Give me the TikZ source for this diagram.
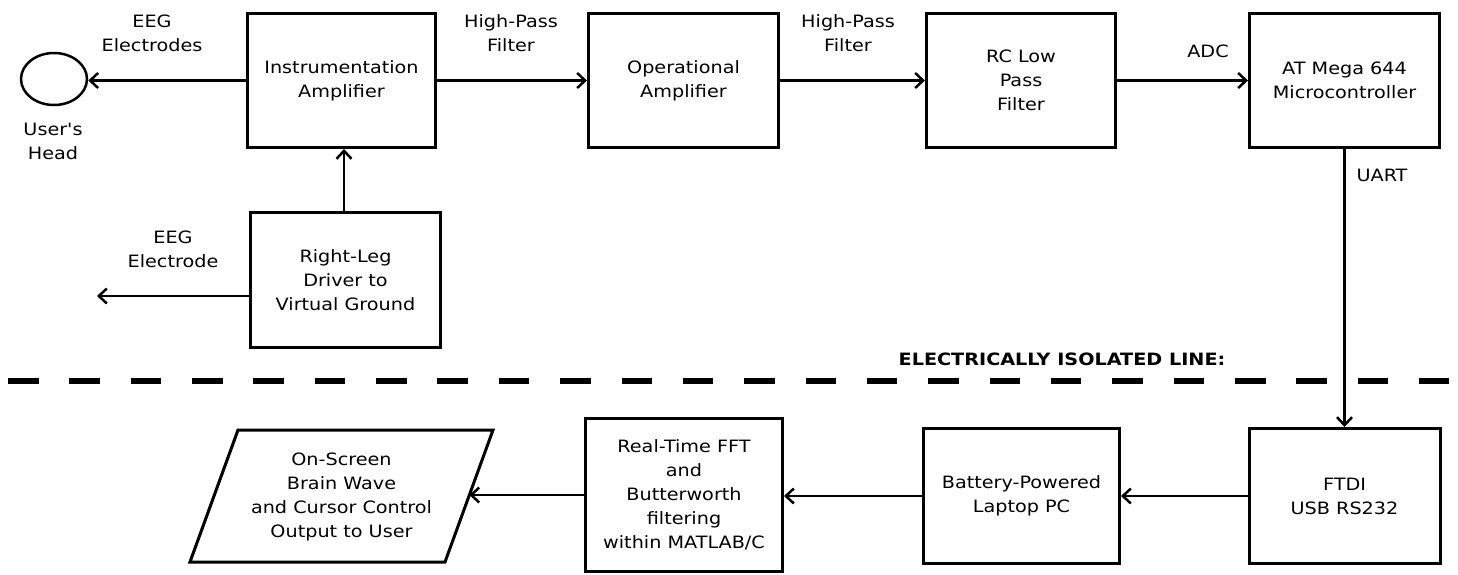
\documentclass[tikz,border=0pt]{standalone}
\usepackage{fontspec}
\setmainfont{DejaVu Sans}[FakeStretch=1.13, Ligatures=TeXOff]
\usetikzlibrary{arrows.meta,shapes.geometric,calc}
\begin{document}
\begin{tikzpicture}[x=1pt,y=-1pt,
  txt/.style={font=\fontsize{17}{24}\selectfont, align=center},
  blk/.style={txt, draw, line width=3pt, inner sep=0pt},
  lbl/.style={txt, inner sep=0pt},
  arr/.style={line width=2.5pt, -{Straight Barb[length=8pt,width=15pt]}}
]
\useasboundingbox (0,0) rectangle (1458,575);

% top row
\node[blk, minimum width=188pt, minimum height=134pt] (ia) at (341.5,80.5) {Instrumentation\\Amplifier};
\node[blk, minimum width=190pt, minimum height=134pt] (oa) at (683.5,80.5) {Operational\\Amplifier};
\node[blk, minimum width=189pt, minimum height=134pt] (rc) at (1021,80.5) {RC Low\\Pass\\Filter};
\node[blk, minimum width=190pt, minimum height=134pt] (at) at (1344.5,80.5) {AT Mega 644\\Microcontroller};
\node[blk, minimum width=190pt, minimum height=135pt] (rl) at (345.5,280) {Right-Leg\\Driver to\\Virtual Ground};

% head
\node[draw, ellipse, line width=2.5pt, minimum width=66pt, minimum height=52pt, inner sep=0pt] (head) at (54,79) {};
\node[lbl] (headlbl) at (53,141) {User's\\Head};

% bottom row
\node[blk, minimum width=191pt, minimum height=135pt] (ftdi) at (1344.5,496) {FTDI\\USB RS232};
\node[blk, minimum width=196pt, minimum height=135pt] (bat) at (1021.5,496) {Battery-Powered\\Laptop PC};
\node[blk, minimum width=197pt, minimum height=153pt] (fft) at (684,495) {Real-Time FFT\\and\\Butterworth\\filtering\\within MATLAB/C};

% parallelogram
\coordinate (pTL) at (238,430);
\coordinate (pTR) at (493,430);
\coordinate (pBR) at (445,562);
\coordinate (pBL) at (190,562);
\draw[line width=3pt, line join=miter] (pTL) -- (pTR) -- (pBR) -- (pBL) -- cycle;
\node[lbl] (out) at (341.5,497) {On-Screen\\Brain Wave\\and Cursor Control\\Output to User};
\coordinate (pin) at ($(pTR)!0.492!(pBR)$);

% connectors
\draw[arr] (ia.west) -- (ia.west -| head.east);
\draw[arr] (ia.east) -- (ia.east -| oa.west);
\draw[arr] (oa.east) -- (oa.east -| rc.west);
\draw[arr] (rc.east) -- (rc.east -| at.west);
\draw[arr] (rl.north -| 344,0) -- (344,0 |- ia.south);
\coordinate (eegend) at (97,296);
\draw[arr] (rl.west |- eegend) -- (eegend);
\draw[arr] (at.south) -- (at.south |- ftdi.north);
\draw[arr] (ftdi.west) -- (ftdi.west -| bat.east);
\draw[arr] (bat.west) -- (bat.west -| fft.east);
\draw[arr] (fft.west) -- (fft.west -| pin);

% labels
\node[lbl] (l1) at (152,33) {EEG\\Electrodes};
\node[lbl] (l2) at (511,33) {High-Pass\\Filter};
\node[lbl] (l3) at (848,33) {High-Pass\\Filter};
\node[lbl] (l4) at (1208,51.5) {ADC};
\node[lbl] (l5) at (1382,175) {UART};
\node[lbl] (l6) at (173,249) {EEG\\Electrode};

% isolation line
\coordinate (dl) at (8,381);
\coordinate (dr) at (1449,381);
\draw[line width=6pt, dash pattern=on 30.5pt off 30.85pt] (dl) -- (dr);
\node[lbl, font=\fontsize{17}{24}\selectfont\bfseries] (iso) at (1062,359) {ELECTRICALLY ISOLATED LINE:};
\end{tikzpicture}
\end{document}
